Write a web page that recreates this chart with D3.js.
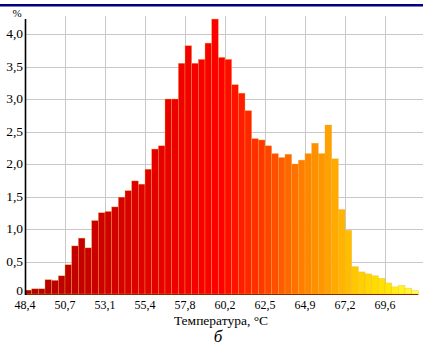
<!DOCTYPE html>
<meta charset="utf-8">
<body style="margin:0;background:#fff">
<div id="chart"></div>
<script src="https://d3js.org/d3.v7.min.js"></script>
<script>
  // share of measurements (%) in each temperature bin
  const values = [
    0.06, 0.08, 0.08, 0.22, 0.21, 0.28, 0.45, 0.74, 0.86, 0.71,
    1.13, 1.25, 1.27, 1.34, 1.49, 1.59, 1.74, 1.69, 1.92, 2.23,
    2.28, 3.00, 3.00, 3.55, 3.82, 3.55, 3.61, 3.86, 4.23, 3.64,
    3.61, 3.22, 3.09, 2.82, 2.39, 2.37, 2.28, 2.16, 2.10, 2.15,
    2.00, 2.06, 2.16, 2.32, 2.16, 2.60, 2.08, 1.30, 0.98, 0.42,
    0.34, 0.31, 0.28, 0.24, 0.17, 0.11, 0.13, 0.09, 0.05
  ];
  const tickBins = [0, 6, 12, 18, 24, 30, 36, 42, 48, 54];
  const tickLabels = ["48,4", "50,7", "53,1", "55,4", "57,8", "60,2", "62,5", "64,9", "67,2", "69,6"];
  const yTicks = [0, 0.5, 1, 1.5, 2, 2.5, 3, 3.5, 4];
  const yLabels = ["0", "0,5", "1,0", "1,5", "2,0", "2,5", "3,0", "3,5", "4,0"];
  // colour ramp along the bins
  const colorBins = [0, 12, 22, 29, 35, 41, 46, 50, 54, 58];
  const colorStops = ["#b00000", "#d00000", "#ee0000", "#ff0000", "#ff3800", "#ff7e00", "#ffaa00", "#ffd000", "#ffe800", "#ffff40"];

  const W = 423, H = 346;
  const margin = {top: 16, left: 25, bottom: 52};
  const barW = 40 / 6;

  const svg = d3.select("#chart").append("svg")
    .attr("width", W).attr("height", H)
    .attr("font-family", "Liberation Serif, Times New Roman, DejaVu Serif, serif");

  const x = d3.scaleLinear()
    .domain([0, values.length])
    .range([margin.left, margin.left + values.length * barW]);
  const y = d3.scaleLinear()
    .domain([0, 4])
    .range([H - margin.bottom, 34]);

  const color = d3.scaleLinear()
    .domain(colorBins)
    .range(colorStops);

  // top rule
  svg.append("rect").attr("x", 0).attr("y", 4).attr("width", W).attr("height", 2.5).attr("fill", "#000080");

  // grid
  svg.append("g").selectAll("line")
    .data(yTicks.slice(1))
    .join("line")
      .attr("x1", margin.left).attr("x2", W)
      .attr("y1", d => Math.round(y(d)) + 0.5).attr("y2", d => Math.round(y(d)) + 0.5)
      .attr("stroke", "#c8c8c8");
  svg.append("g").selectAll("line")
    .data(tickBins.slice(1))
    .join("line")
      .attr("x1", d => Math.round(x(d)) + 0.5).attr("x2", d => Math.round(x(d)) + 0.5)
      .attr("y1", margin.top).attr("y2", y(0))
      .attr("stroke", "#c8c8c8");

  // bars
  svg.append("g").selectAll("rect")
    .data(values)
    .join("rect")
      .attr("x", (d, i) => x(i))
      .attr("y", d => y(d))
      .attr("width", barW)
      .attr("height", d => y(0) - y(d))
      .attr("fill", (d, i) => color(i))
      .attr("stroke", "#f0b040")
      .attr("stroke-width", 0.5)
      .attr("stroke-opacity", 0.7);

  // x axis line
  svg.append("line")
    .attr("x1", margin.left).attr("x2", x(values.length))
    .attr("y1", y(0) + 0.5).attr("y2", y(0) + 0.5)
    .attr("stroke", "#8a2a00");

  // y axis line
  svg.append("line")
    .attr("x1", margin.left + 0.5).attr("x2", margin.left + 0.5)
    .attr("y1", 19).attr("y2", y(0) + 1)
    .attr("stroke", "#000").attr("stroke-width", 1.6);

  svg.append("g").selectAll("text")
    .data(yTicks)
    .join("text")
      .attr("x", 23)
      .attr("y", d => d === 0 ? y(d) - 3 : y(d))
      .attr("dy", "0.32em")
      .attr("text-anchor", "end")
      .attr("font-size", 13.5)
      .text((d, i) => yLabels[i]);

  svg.append("g").selectAll("text")
    .data(tickBins)
    .join("text")
      .attr("x", d => x(d))
      .attr("y", 309)
      .attr("text-anchor", "middle")
      .attr("font-size", 12)
      .text((d, i) => tickLabels[i]);

  svg.append("text")
    .attr("x", 17).attr("y", 17)
    .attr("text-anchor", "middle")
    .attr("font-size", 11)
    .text("%");

  svg.append("text")
    .attr("x", 221).attr("y", 325)
    .attr("text-anchor", "middle")
    .attr("font-size", 13.5)
    .text("Температура, °C");

  svg.append("text")
    .attr("x", 218).attr("y", 342)
    .attr("text-anchor", "middle")
    .attr("font-size", 17)
    .attr("font-style", "italic")
    .text("б");
</script>
</body>
